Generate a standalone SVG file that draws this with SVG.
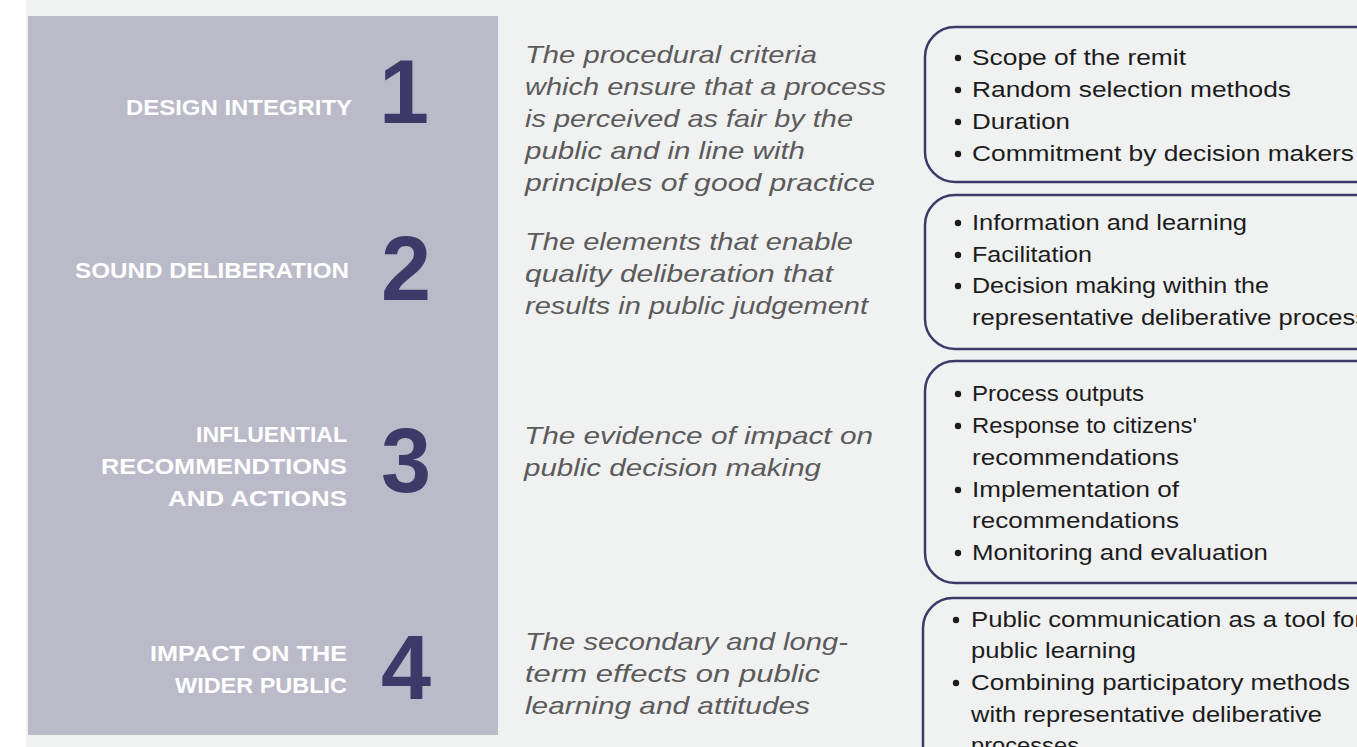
<svg xmlns="http://www.w3.org/2000/svg" width="1357" height="747" viewBox="0 0 1357 747">
<style>
.lbl{font-family:"Liberation Sans",Arial,sans-serif;font-weight:bold;font-size:22px;fill:#ffffff;text-anchor:end}
.num{font-family:"Liberation Sans",Arial,sans-serif;font-weight:bold;font-size:90px;fill:#3d3a69;text-anchor:middle}
.desc{font-family:"Liberation Sans",Arial,sans-serif;font-style:italic;font-size:24px;fill:#5b5b5b}
.item{font-family:"Liberation Sans",Arial,sans-serif;font-size:22.5px;fill:#1c1c1c}
.box{fill:none;stroke:#3d3a69;stroke-width:2.5}
.dot{fill:#1c1c1c}
</style>
<rect x="0" y="0" width="1357" height="747" fill="#ffffff"/>
<rect x="26" y="0" width="1331" height="747" fill="#f0f1f1"/>
<rect id="panel" x="28" y="16" width="470" height="719" fill="#bbbac9"/>

<g id="row1">
<text class="lbl" x="352" y="115" textLength="226" lengthAdjust="spacingAndGlyphs">DESIGN INTEGRITY</text>
<text class="num" x="404" y="123">1</text>
<text class="desc" x="525" y="63" textLength="292" lengthAdjust="spacingAndGlyphs">The procedural criteria</text>
<text class="desc" x="525" y="95" textLength="361" lengthAdjust="spacingAndGlyphs">which ensure that a process</text>
<text class="desc" x="525" y="127" textLength="328" lengthAdjust="spacingAndGlyphs">is perceived as fair by the</text>
<text class="desc" x="525" y="159" textLength="280" lengthAdjust="spacingAndGlyphs">public and in line with</text>
<text class="desc" x="525" y="191" textLength="350" lengthAdjust="spacingAndGlyphs">principles of good practice</text>
</g>
<g id="box1">
<rect class="box" x="925" y="27" width="460" height="155" rx="30" ry="30"/>
<circle class="dot" cx="958" cy="58" r="3.2"/>
<text class="item" x="972" y="65" textLength="214" lengthAdjust="spacingAndGlyphs">Scope of the remit</text>
<circle class="dot" cx="958" cy="90" r="3.2"/>
<text class="item" x="972" y="97" textLength="319" lengthAdjust="spacingAndGlyphs">Random selection methods</text>
<circle class="dot" cx="958" cy="122" r="3.2"/>
<text class="item" x="972" y="129" textLength="98" lengthAdjust="spacingAndGlyphs">Duration</text>
<circle class="dot" cx="958" cy="154" r="3.2"/>
<text class="item" x="972" y="161" textLength="382" lengthAdjust="spacingAndGlyphs">Commitment by decision makers</text>
</g>

<g id="row2">
<text class="lbl" x="349" y="278" textLength="274" lengthAdjust="spacingAndGlyphs">SOUND DELIBERATION</text>
<text class="num" x="406" y="300">2</text>
<text class="desc" x="525" y="250" textLength="328" lengthAdjust="spacingAndGlyphs">The elements that enable</text>
<text class="desc" x="525" y="282" textLength="308" lengthAdjust="spacingAndGlyphs">quality deliberation that</text>
<text class="desc" x="525" y="314" textLength="343" lengthAdjust="spacingAndGlyphs">results in public judgement</text>
</g>
<g id="box2">
<rect class="box" x="925" y="195" width="460" height="154" rx="30" ry="30"/>
<circle class="dot" cx="958" cy="223" r="3.2"/>
<text class="item" x="972" y="230" textLength="275" lengthAdjust="spacingAndGlyphs">Information and learning</text>
<circle class="dot" cx="958" cy="255" r="3.2"/>
<text class="item" x="972" y="262" textLength="120" lengthAdjust="spacingAndGlyphs">Facilitation</text>
<circle class="dot" cx="958" cy="286" r="3.2"/>
<text class="item" x="972" y="293" textLength="297" lengthAdjust="spacingAndGlyphs">Decision making within the</text>
<text class="item" x="972" y="325" textLength="396" lengthAdjust="spacingAndGlyphs">representative deliberative process</text>
</g>

<g id="row3">
<text class="lbl" x="347" y="442" textLength="151" lengthAdjust="spacingAndGlyphs">INFLUENTIAL</text>
<text class="lbl" x="347" y="474" textLength="246" lengthAdjust="spacingAndGlyphs">RECOMMENDTIONS</text>
<text class="lbl" x="347" y="506" textLength="179" lengthAdjust="spacingAndGlyphs">AND ACTIONS</text>
<text class="num" x="406" y="492">3</text>
<text class="desc" x="524" y="444" textLength="349" lengthAdjust="spacingAndGlyphs">The evidence of impact on</text>
<text class="desc" x="524" y="476" textLength="297" lengthAdjust="spacingAndGlyphs">public decision making</text>
</g>
<g id="box3">
<rect class="box" x="925" y="361" width="460" height="222" rx="30" ry="30"/>
<circle class="dot" cx="958" cy="394" r="3.2"/>
<text class="item" x="972" y="401" textLength="172" lengthAdjust="spacingAndGlyphs">Process outputs</text>
<circle class="dot" cx="958" cy="426" r="3.2"/>
<text class="item" x="972" y="433" textLength="225" lengthAdjust="spacingAndGlyphs">Response to citizens'</text>
<text class="item" x="972" y="465" textLength="207" lengthAdjust="spacingAndGlyphs">recommendations</text>
<circle class="dot" cx="958" cy="490" r="3.2"/>
<text class="item" x="972" y="497" textLength="207" lengthAdjust="spacingAndGlyphs">Implementation of</text>
<text class="item" x="972" y="528" textLength="207" lengthAdjust="spacingAndGlyphs">recommendations</text>
<circle class="dot" cx="958" cy="553" r="3.2"/>
<text class="item" x="972" y="560" textLength="296" lengthAdjust="spacingAndGlyphs">Monitoring and evaluation</text>
</g>

<g id="row4">
<text class="lbl" x="347" y="661" textLength="197" lengthAdjust="spacingAndGlyphs">IMPACT ON THE</text>
<text class="lbl" x="347" y="693" textLength="172" lengthAdjust="spacingAndGlyphs">WIDER PUBLIC</text>
<text class="num" x="406" y="699">4</text>
<text class="desc" x="525" y="650" textLength="323" lengthAdjust="spacingAndGlyphs">The secondary and long-</text>
<text class="desc" x="525" y="682" textLength="295" lengthAdjust="spacingAndGlyphs">term effects on public</text>
<text class="desc" x="525" y="714" textLength="285" lengthAdjust="spacingAndGlyphs">learning and attitudes</text>
</g>
<g id="box4">
<rect class="box" x="923" y="598" width="462" height="200" rx="30" ry="30"/>
<circle class="dot" cx="956" cy="620" r="3.2"/>
<text class="item" x="971" y="627" textLength="392" lengthAdjust="spacingAndGlyphs">Public communication as a tool for</text>
<text class="item" x="971" y="658" textLength="165" lengthAdjust="spacingAndGlyphs">public learning</text>
<circle class="dot" cx="956" cy="683" r="3.2"/>
<text class="item" x="971" y="690" textLength="379" lengthAdjust="spacingAndGlyphs">Combining participatory methods</text>
<text class="item" x="971" y="722" textLength="351" lengthAdjust="spacingAndGlyphs">with representative deliberative</text>
<text class="item" x="971" y="753" textLength="108" lengthAdjust="spacingAndGlyphs">processes</text>
</g>
<g id="connectors"></g>
</svg>
